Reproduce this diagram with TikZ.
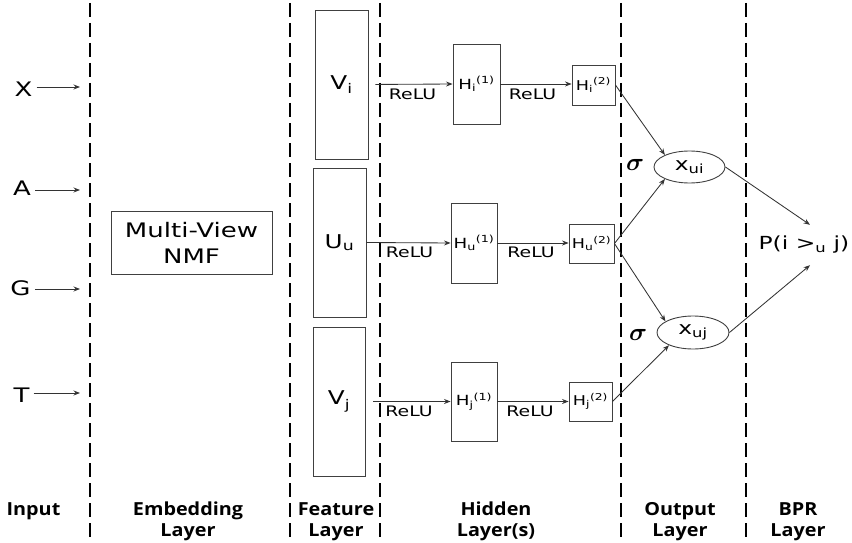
\documentclass[tikz,border=0pt]{standalone}
\usepackage{fontspec}
\usepackage{amsmath}
\setmainfont[FakeStretch=1.3]{DejaVu Sans}
\newfontfamily\labfont[FakeStretch=1.1]{Open Sans}
\usetikzlibrary{arrows.meta,shapes.geometric}
\tikzset{
  layerline/.style={line width=2.4pt, dash pattern=on 14pt off 6pt},
  box/.style={draw=black!75, line width=0.9pt, rectangle, inner sep=0pt},
  conn/.style={draw=black!80, line width=0.85pt, -{Stealth[length=6.5pt,width=5pt]}},
  inlet/.style={font=\fontsize{20}{22}\selectfont, inner sep=0pt},
  feat/.style={box, font=\fontsize{19}{21}\selectfont, minimum width=53pt, minimum height=149pt},
  hidA/.style={box, font=\fontsize{14}{16}\selectfont, minimum width=46pt, minimum height=80pt},
  hidB/.style={box, font=\fontsize{13.5}{16}\selectfont, minimum width=44pt, minimum height=39pt},
  relu/.style={font=\fontsize{14.5}{16}\selectfont, inner sep=0pt},
  outnode/.style={ellipse, draw=black!75, line width=0.9pt, inner sep=0pt, font=\fontsize{18}{20}\selectfont, minimum width=71pt, minimum height=32pt},
  sig/.style={font=\fontsize{23}{24}\selectfont, inner sep=0pt},
  laylab/.style={font=\labfont\bfseries\fontsize{18}{21}\selectfont, align=center, anchor=north, inner sep=0pt}
}
\begin{document}
\begin{tikzpicture}[x=1pt,y=-1pt]
\useasboundingbox (0,0) rectangle (852,543);
% layer separators
\foreach \xx in {90,290,380,621,746}
  \draw[layerline] (\xx,3) -- (\xx,541);
% inputs
\node[inlet] (X) at (23.5,89.5) {X};
\node[inlet] (A) at (22,188) {A};
\node[inlet] (G) at (20.5,288) {G};
\node[inlet] (T) at (21.5,395) {T};
\coordinate (xin) at (80,87);
\coordinate (ain) at (80,190);
\coordinate (gin) at (80,289);
\coordinate (tin) at (80,393);
\draw[conn] ([xshift=4pt]X.east |- xin) -- (xin);
\draw[conn] ([xshift=4pt]A.east |- ain) -- (ain);
\draw[conn] ([xshift=4pt]G.east |- gin) -- (gin);
\draw[conn] ([xshift=4pt]T.east |- tin) -- (tin);
% embedding
\node[box, minimum width=161pt, minimum height=63pt, align=center, font=\fontsize{20}{26}\selectfont] (nmf) at (191.5,242.5) {Multi-View\\NMF};
% feature layer
\node[feat] (Vi) at (341.5,84.5) {V\textsubscript{i}};
\node[feat] (Uu) at (339.5,242.5) {U\textsubscript{u}};
\node[feat, minimum width=52pt] (Vj) at (339,401.5) {V\textsubscript{j}};
% hidden layers
\node[hidA, minimum width=47pt] (Hi1) at (476.5,84) {H\textsubscript{i}\textsuperscript{(1)}};
\node[hidA] (Hu1) at (474,243) {H\textsubscript{u}\textsuperscript{(1)}};
\node[hidA, minimum height=79pt] (Hj1) at (474,401.5) {H\textsubscript{j}\textsuperscript{(1)}};
\node[hidB, minimum width=43pt, minimum height=40pt] (Hi2) at (593.5,85) {H\textsubscript{i}\textsuperscript{(2)}};
\node[hidB, minimum width=45pt] (Hu2) at (591.5,243.5) {H\textsubscript{u}\textsuperscript{(2)}};
\node[hidB, minimum width=43pt] (Hj2) at (590.5,401.5) {H\textsubscript{j}\textsuperscript{(2)}};
\draw[conn, shorten <=7pt] (Vi.east) -- (Hi1.west);
\draw[conn] (Uu.east) -- (Hu1.west);
\draw[conn, shorten <=8pt] (Vj.east) -- (Hj1.west);
\draw[conn] (Hi1.east) -- (Hi2.west |- Hi1.east);
\draw[conn] (Hu1.east) -- (Hu2.west |- Hu1.east);
\draw[conn] (Hj1.east) -- (Hj2.west |- Hj1.east);
\node[relu] (r1) at (412.5,94.5) {ReLU};
\node[relu] (r2) at (532.5,94.5) {ReLU};
\node[relu] (r3) at (409.5,252.5) {ReLU};
\node[relu] (r4) at (531,252.5) {ReLU};
\node[relu] (r5) at (409,411) {ReLU};
\node[relu] (r6) at (530,411) {ReLU};
% output layer
\node[outnode] (xui) at (689.5,167) {x\textsubscript{ui}};
\node[outnode, minimum width=72pt, minimum height=33pt] (xuj) at (693,332.5) {x\textsubscript{uj}};
\node[sig] (s1) at (635,165) {$\boldsymbol{\sigma}$};
\node[sig] (s2) at (638,335) {$\boldsymbol{\sigma}$};
\draw[conn] (Hi2.east) -- (xui.154);
\draw[conn] (Hu2.east) -- (xui.206);
\draw[conn] (Hu2.east) -- (xuj.158);
\draw[conn] (Hj2.east) -- (xuj.208);
% BPR layer
\node[inner sep=0pt, minimum height=40pt, font=\fontsize{18}{21}\selectfont] (P) at (804,245) {P(i >\textsubscript{u} j)};
\draw[conn] (xui.east) -- ([xshift=6pt]P.north);
\draw[conn] (xuj.east) -- ([xshift=6pt]P.south);
% layer labels
\node[laylab] (l1) at (33.5,502) {Input};
\node[laylab] (l2) at (188,502) {Embedding\\Layer};
\node[laylab] (l3) at (336,502) {Feature\\Layer};
\node[laylab] (l4) at (496,502) {Hidden\\Layer(s)};
\node[laylab] (l5) at (680,502) {Output\\Layer};
\node[laylab] (l6) at (798,502) {BPR\\Layer};
\end{tikzpicture}
\end{document}
